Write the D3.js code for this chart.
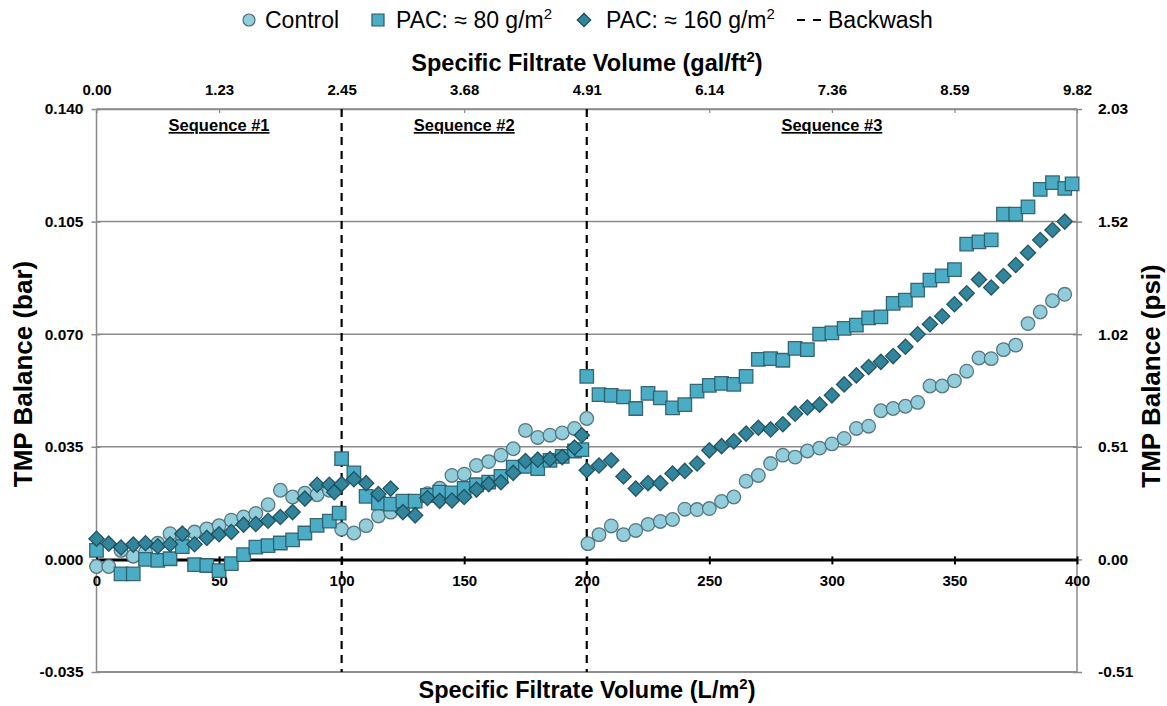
<!DOCTYPE html>
<html>
<head>
<meta charset="utf-8">
<script src="https://cdn.jsdelivr.net/npm/d3@7"></script>
<style>
  html, body { margin: 0; padding: 0; background: #fff; }
  svg { display: block; font-family: "Liberation Sans", Arial, Helvetica, sans-serif; }
</style>
</head>
<body>
<svg id="chart" width="1167" height="706"></svg>
<script>
// ---- data: TMP balance (bar) vs specific filtrate volume (L/m2) ----
const controlX = [0,5,10,15,20,25,30,35,40,45,50,55,60,65,70,75,80,85,90,95,
  100,105,110,115,120,125,130,135,140,145,150,155,160,165,170,175,180,185,190,195,200,
  200.5,205,210,215,220,225,230,235,240,245,250,255,260,265,270,275,280,285,290,295,
  300,305,310,315,320,325,330,335,340,345,350,355,360,365,370,375,380,385,390,395];
const controlY = [-0.0022,-0.0022,0.0028,0.0010,0.0023,0.0050,0.0080,0.0075,0.0085,0.0095,0.0105,0.0122,0.0132,0.0143,0.0170,0.0215,0.0194,0.0206,0.0201,0.0215,
  0.0094,0.0082,0.0105,0.0135,0.0147,0.0158,0.0178,0.0204,0.0221,0.0261,0.0265,0.0292,0.0304,0.0324,0.0344,0.0401,0.0379,0.0386,0.0393,0.0407,0.0438,
  0.0049,0.0077,0.0104,0.0077,0.0090,0.0109,0.0118,0.0124,0.0156,0.0155,0.0158,0.0180,0.0194,0.0243,0.0261,0.0298,0.0324,0.0318,0.0337,0.0346,
  0.0359,0.0376,0.0407,0.0414,0.0462,0.0469,0.0476,0.0488,0.0539,0.0539,0.0555,0.0585,0.0626,0.0624,0.0652,0.0666,0.0733,0.0769,0.0804,0.0824];

const pac80X = [0,10,15,20,25,30,35,40,45,50,55,60,65,70,75,80,85,90,95,99,
  100,105,110,115,120,125,130,135,140,145,150,155,160,165,170,175,180,185,190,195,198,
  200,205,210,215,220,225,230,235,240,245,250,255,260,265,270,275,280,285,290,295,
  300,305,310,315,320,325,330,335,340,345,350,355,360,365,370,375,380,385,390,395,398];
const pac80Y = [0.0028,-0.0045,-0.0045,0.0000,-0.0003,0.0002,0.0040,-0.0016,-0.0019,-0.0035,-0.0013,0.0015,0.0038,0.0043,0.0051,0.0061,0.0082,0.0106,0.0119,0.0144,
  0.0313,0.0269,0.0196,0.0175,0.0172,0.0181,0.0181,0.0199,0.0209,0.0207,0.0221,0.0232,0.0240,0.0258,0.0287,0.0289,0.0282,0.0308,0.0320,0.0337,0.0341,
  0.0569,0.0512,0.0510,0.0505,0.0469,0.0516,0.0502,0.0471,0.0481,0.0523,0.0541,0.0547,0.0544,0.0569,0.0622,0.0624,0.0619,0.0656,0.0652,0.0700,
  0.0704,0.0718,0.0728,0.0751,0.0754,0.0796,0.0806,0.0837,0.0868,0.0881,0.0901,0.0980,0.0987,0.0993,0.1073,0.1073,0.1096,0.1150,0.1171,0.1153,0.1167];

const pac160X = [0,5,10,15,20,25,30,35,40,45,50,55,60,65,70,75,80,85,90,95,97,
  100,105,110,115,120,125,130,135,140,145,150,155,160,165,170,175,180,185,190,195,198,
  200,205,210,215,220,225,230,235,240,245,250,255,260,265,270,275,280,285,290,295,
  300,305,310,315,320,325,330,335,340,345,350,355,360,365,370,375,380,385,390,395];
const pac160Y = [0.0064,0.0049,0.0037,0.0046,0.0050,0.0041,0.0047,0.0080,0.0047,0.0067,0.0078,0.0085,0.0108,0.0110,0.0120,0.0132,0.0147,0.0189,0.0232,0.0232,0.0209,
  0.0234,0.0249,0.0237,0.0203,0.0220,0.0147,0.0137,0.0191,0.0182,0.0183,0.0194,0.0217,0.0234,0.0240,0.0269,0.0306,0.0310,0.0312,0.0318,0.0348,0.0386,
  0.0277,0.0292,0.0308,0.0258,0.0220,0.0237,0.0237,0.0267,0.0275,0.0298,0.0339,0.0352,0.0367,0.0391,0.0409,0.0404,0.0420,0.0453,0.0472,0.0481,
  0.0510,0.0544,0.0572,0.0598,0.0614,0.0632,0.0661,0.0700,0.0731,0.0756,0.0793,0.0827,0.0870,0.0845,0.0881,0.0915,0.0953,0.0993,0.1024,0.1050];

// axis ticks
const xTicks = [0,50,100,150,200,250,300,350,400];              // L/m2
const galLabels = ["0.00","1.23","2.45","3.68","4.91","6.14","7.36","8.59","9.82"]; // gal/ft2
const yTicks = [-0.035,0,0.035,0.070,0.105,0.140];              // bar
const psiLabels = ["-0.51","0.00","0.51","1.02","1.52","2.03"]; // psi
const backwashX = [100,200];
const sequences = [{x:50,label:"Sequence #1"},{x:150,label:"Sequence #2"},{x:300,label:"Sequence #3"}];

// ---- drawing ----
const svg = d3.select("#chart");
const L = 96.5, R = 1077, T = 109, B = 672;
const x = d3.scaleLinear().domain([0,400]).range([L,R]);
const y = d3.scaleLinear().domain([-0.035,0.14]).range([B,T]);

const grid = "#8a8a8a";
const tickFont = "bold 15px 'Liberation Sans', Arial, sans-serif";
const sideTickFont = "bold 15.5px 'Liberation Sans', Arial, sans-serif";

// horizontal gridlines
svg.append("g").selectAll("line").data(yTicks.filter(v => v !== 0)).join("line")
  .attr("x1", L).attr("x2", R).attr("y1", d => y(d)).attr("y2", d => y(d))
  .attr("stroke", grid).attr("stroke-width", 1.5);

// frame sides
svg.append("line").attr("x1", L).attr("x2", L).attr("y1", T).attr("y2", B).attr("stroke", grid).attr("stroke-width", 1.5);
svg.append("line").attr("x1", R).attr("x2", R).attr("y1", T).attr("y2", B).attr("stroke", grid).attr("stroke-width", 1.5);

// left axis (bar)
const gl = svg.append("g").attr("transform", `translate(${L},0)`)
  .call(d3.axisLeft(y).tickValues(yTicks).tickFormat(d => d.toFixed(3)).tickSizeInner(5).tickSizeOuter(0).tickPadding(8));
gl.select(".domain").remove();
gl.selectAll(".tick line").attr("stroke", grid).attr("stroke-width", 1.5).attr("x2", -5).attr("x1", 4);
gl.selectAll("text").style("font", sideTickFont).attr("fill", "#000");

// right axis (psi)
const gr = svg.append("g").attr("transform", `translate(${R},0)`)
  .call(d3.axisRight(y).tickValues(yTicks).tickFormat((d,i) => psiLabels[i]).tickSizeInner(5).tickSizeOuter(0).tickPadding(16));
gr.select(".domain").remove();
gr.selectAll(".tick line").attr("stroke", grid).attr("stroke-width", 1.5).attr("x1", -4).attr("x2", 5);
gr.selectAll("text").style("font", sideTickFont).attr("fill", "#000");

// top axis (gal/ft2)
const gt = svg.append("g").attr("transform", `translate(0,${T})`)
  .call(d3.axisTop(x).tickValues(xTicks).tickFormat((d,i) => galLabels[i]).tickSizeInner(-4).tickSizeOuter(0).tickPadding(14));
gt.select(".domain").attr("stroke", grid).attr("stroke-width", 1.5);
gt.selectAll(".tick line").attr("stroke", grid).attr("stroke-width", 1.2);
gt.selectAll("text").style("font", tickFont).attr("fill", "#000");

// bottom frame line
svg.append("line").attr("x1", L).attr("x2", R).attr("y1", B).attr("y2", B).attr("stroke", grid).attr("stroke-width", 1.5);

// bottom axis along zero line (L/m2)
const gb = svg.append("g").attr("transform", `translate(0,${y(0)})`)
  .call(d3.axisBottom(x).tickValues(xTicks).tickSizeInner(5).tickSizeOuter(0).tickPadding(11));
gb.select(".domain").attr("stroke", "#000").attr("stroke-width", 3);
gb.selectAll(".tick line").attr("stroke", "#000").attr("stroke-width", 2).attr("y1", -3);
gb.selectAll("text").style("font", tickFont).attr("fill", "#000");

// backwash lines
svg.append("g").selectAll("line").data(backwashX).join("line")
  .attr("x1", d => x(d)).attr("x2", d => x(d)).attr("y1", T).attr("y2", B)
  .attr("stroke", "#000").attr("stroke-width", 2.2).attr("stroke-dasharray", "8,6");

// sequence labels
svg.append("g").selectAll("text").data(sequences).join("text")
  .attr("x", d => x(d.x)).attr("y", 131).attr("text-anchor", "middle")
  .attr("text-decoration", "underline")
  .style("font", "bold 16.5px 'Liberation Sans', Arial, sans-serif")
  .text(d => d.label);

// markers
const circleSym = d3.symbol().type(d3.symbolCircle).size(Math.PI * 6.8 * 6.8);
const squareSym = d3.symbol().type(d3.symbolSquare).size(13.5 * 13.5);
const diamondSym = d3.symbol().type(d3.symbolSquare).size(10.8 * 10.8);

function series(xs, ys, sym, fill, stroke, rot) {
  const pts = xs.map((v, i) => [v, ys[i]]);
  svg.append("g").selectAll("path").data(pts).join("path")
    .attr("d", sym)
    .attr("transform", d => `translate(${x(d[0])},${y(d[1])})${rot ? " rotate(45)" : ""}`)
    .attr("fill", fill).attr("stroke", stroke).attr("stroke-width", 1.3).attr("stroke-opacity", 0.9);
}
series(controlX, controlY, circleSym, "#92CDDC", "#4d6b73", false);
series(pac80X, pac80Y, squareSym, "#4BACC6", "#2b5a66", false);
series(pac160X, pac160Y, diamondSym, "#31859C", "#1c4a57", true);

// axis titles
const titleFont = "bold 23.5px 'Liberation Sans', Arial, sans-serif";
const tt = svg.append("text").attr("x", 587).attr("y", 71).attr("text-anchor", "middle").style("font", titleFont);
tt.append("tspan").text("Specific Filtrate Volume (gal/ft");
tt.append("tspan").attr("dy", -9).style("font-size", "15px").text("2");
tt.append("tspan").attr("dy", 9).text(")");

const bt = svg.append("text").attr("x", 587).attr("y", 698).attr("text-anchor", "middle").style("font", titleFont);
bt.append("tspan").text("Specific Filtrate Volume (L/m");
bt.append("tspan").attr("dy", -9).style("font-size", "15px").text("2");
bt.append("tspan").attr("dy", 9).text(")");

const sideTitleFont = "bold 26px 'Liberation Sans', Arial, sans-serif";
svg.append("text").attr("transform", "translate(32,374) rotate(-90)").attr("text-anchor", "middle")
  .style("font", sideTitleFont).text("TMP Balance (bar)");
svg.append("text").attr("transform", "translate(1160,376) rotate(-90)").attr("text-anchor", "middle")
  .style("font", sideTitleFont).text("TMP Balance (psi)");

// legend
const lg = svg.append("g");
const legFont = "23px 'Liberation Sans', Arial, sans-serif";
lg.append("path").attr("d", d3.symbol().type(d3.symbolCircle).size(Math.PI * 36)())
  .attr("transform", "translate(249,20)").attr("fill", "#92CDDC").attr("stroke", "#4d6b73").attr("stroke-width", 1.2);
lg.append("text").attr("x", 265).attr("y", 28).style("font", legFont).text("Control");
lg.append("path").attr("d", d3.symbol().type(d3.symbolSquare).size(144)())
  .attr("transform", "translate(378,20)").attr("fill", "#4BACC6").attr("stroke", "#2b5a66").attr("stroke-width", 1.2);
const l2 = lg.append("text").attr("x", 396).attr("y", 28).style("font", legFont);
l2.append("tspan").text("PAC: \u2248 80 g/m");
l2.append("tspan").attr("dy", -9).style("font-size", "15px").text("2");
lg.append("path").attr("d", d3.symbol().type(d3.symbolSquare).size(90)())
  .attr("transform", "translate(584,20) rotate(45)").attr("fill", "#31859C").attr("stroke", "#1c4a57").attr("stroke-width", 1.2);
const l3 = lg.append("text").attr("x", 606).attr("y", 28).style("font", legFont);
l3.append("tspan").text("PAC: \u2248 160 g/m");
l3.append("tspan").attr("dy", -9).style("font-size", "15px").text("2");
lg.append("line").attr("x1", 797).attr("x2", 822).attr("y1", 20).attr("y2", 20)
  .attr("stroke", "#000").attr("stroke-width", 2).attr("stroke-dasharray", "8,8");
lg.append("text").attr("x", 828).attr("y", 28).style("font", legFont).text("Backwash");
</script>
</body>
</html>
